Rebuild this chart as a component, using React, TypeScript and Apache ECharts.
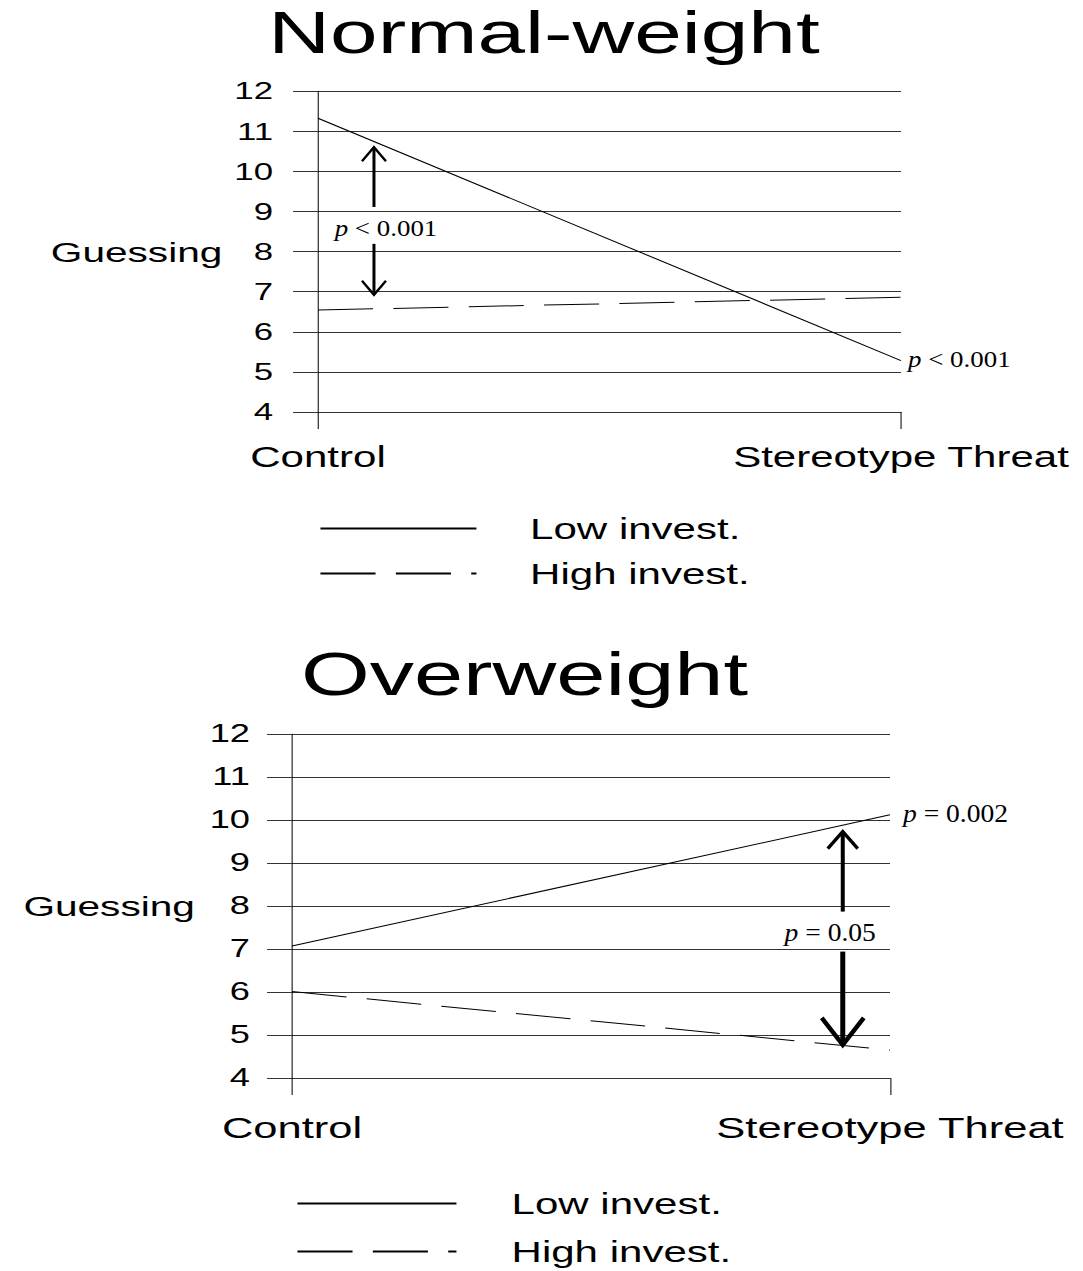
import React, { useEffect, useRef } from "react";
import * as echarts from "echarts";

// ---------- data ----------
const categories = ["Control", "Stereotype Threat"];
const seriesNames = ["Low invest.", "High invest."];
const chartTitles = ["Normal-weight", "Overweight"];
const axisName = "Guessing";
const yMin = 4;
const yMax = 12;

const normalLow = [11.32, 5.28];
const normalHigh = [6.54, 6.86];
const overLow = [7.07, 10.12];
const overHigh = [6.01, 4.65];

// arrows: data-space x, start value, tip value
const normalArrows = [
  { x: 0.096, from: 9.11, to: 10.6 },
  { x: 0.096, from: 8.19, to: 6.92 },
];
const overArrows = [
  { x: 0.921, from: 7.87, to: 9.73 },
  { x: 0.921, from: 6.94, to: 4.77 },
];
// p-value notes: data-space anchor
const normalNotes = [
  { x: 0.1166, y: 8.59, text: "p < 0.001", align: "center" },
  { x: 1.012, y: 5.32, text: "p < 0.001", align: "left" },
];
const overNotes = [
  { x: 0.9, y: 7.4, text: "p = 0.05", align: "center" },
  { x: 1.0217, y: 10.16, text: "p = 0.002", align: "left" },
];

// ---------- styles / layout ----------
const W0 = 747;
const H = 1271;
const S = 1083 / W0; // horizontal stretch of the whole picture
const SANS = "'Liberation Sans', Arial, sans-serif";
const SERIF = "'Liberation Serif', 'Times New Roman', serif";
const GRID = "#333333";
const DASH = [38, 14];

const normalArrowSizes = [
  { shaft: 3, head: 2.4, hw: 12, hl: 14 },
  { shaft: 3, head: 2.4, hw: 12, hl: 14 },
];
const overArrowSizes = [
  { shaft: 4, head: 3.4, hw: 15, hl: 17 },
  { shaft: 5, head: 4.5, hw: 21, hl: 27 },
];
const normalNoteStyles = [
  { size: 23, stretch: 1.17 },
  { size: 23, stretch: 1.17 },
];
const overNoteStyles = [
  { size: 26, stretch: 1.06 },
  { size: 26, stretch: 1.06 },
];

function xAxis(gridIndex: number, fontSize: number, margin: number) {
  return {
    type: "value",
    gridIndex,
    min: 0,
    max: 1,
    interval: 1,
    axisLine: { show: true, onZero: false, lineStyle: { color: GRID, width: 1 } },
    axisTick: { show: true, length: 17, lineStyle: { color: "#000", width: 0.7 } },
    axisLabel: {
      margin,
      fontSize,
      fontFamily: SANS,
      color: "#000",
      formatter: (v: number) => categories[Math.round(v)] ?? "",
    },
    splitLine: { show: false },
  };
}

function yAxis(gridIndex: number, fontSize: number, margin: number, nameGap: number) {
  return {
    type: "value",
    gridIndex,
    min: yMin,
    max: yMax,
    interval: 1,
    name: axisName,
    nameLocation: "middle",
    nameRotate: 0,
    nameGap,
    nameMoveOverlap: false,
    nameTextStyle: {
      fontSize: 28,
      fontFamily: SANS,
      color: "#000",
      align: "right",
      verticalAlign: "middle",
    },
    axisLine: { show: true, onZero: false, lineStyle: { color: "#000", width: 0.7 } },
    axisTick: { show: true, length: 17.2, lineStyle: { color: GRID, width: 1 } },
    axisLabel: { margin, fontSize, fontFamily: SANS, color: "#000" },
    splitLine: { show: true, lineStyle: { color: GRID, width: 1 } },
  };
}

function lineSeries(name: string, values: number[], gi: number, dashed: boolean) {
  return {
    name,
    type: "line",
    xAxisIndex: gi,
    yAxisIndex: gi,
    data: values.map((v, i) => [i, v]),
    symbol: "none",
    lineStyle: { color: "#000", width: 1, type: dashed ? DASH : "solid" },
    itemStyle: { color: "#000" },
    z: 3,
  };
}

function arrowSeries(arrows: any[], sizes: any[], gi: number) {
  return {
    type: "custom",
    coordinateSystem: "cartesian2d",
    xAxisIndex: gi,
    yAxisIndex: gi,
    silent: true,
    clip: false,
    z: 10,
    dimensions: ["x", "from", "to"],
    encode: { x: 0, y: [1, 2] },
    data: arrows.map((a) => [a.x, a.from, a.to]),
    renderItem: (params: any, api: any) => {
      const s = sizes[params.dataIndex];
      const p1 = api.coord([api.value(0), api.value(1)]);
      const p2 = api.coord([api.value(0), api.value(2)]);
      const dir = p2[1] < p1[1] ? -1 : 1;
      const tip = p2[1];
      return {
        type: "group",
        x: p1[0],
        y: 0,
        scaleX: 1 / S,
        children: [
          {
            type: "line",
            shape: { x1: 0, y1: p1[1], x2: 0, y2: tip - dir * 2 },
            style: { stroke: "#000", lineWidth: s.shaft, fill: "none" },
          },
          {
            type: "polyline",
            shape: {
              points: [
                [-s.hw, tip - dir * s.hl],
                [0, tip],
                [s.hw, tip - dir * s.hl],
              ],
            },
            style: { stroke: "#000", fill: "none", lineWidth: s.head, lineJoin: "miter" },
          },
        ],
      };
    },
  };
}

function noteSeries(notes: any[], styles: any[], gi: number) {
  return {
    type: "custom",
    coordinateSystem: "cartesian2d",
    xAxisIndex: gi,
    yAxisIndex: gi,
    silent: true,
    clip: false,
    z: 11,
    dimensions: ["x", "y"],
    encode: { x: 0, y: 1 },
    data: notes.map((n) => [n.x, n.y]),
    renderItem: (params: any, api: any) => {
      const n = notes[params.dataIndex];
      const st = styles[params.dataIndex];
      const p = api.coord([api.value(0), api.value(1)]);
      return {
        type: "text",
        x: p[0],
        y: p[1],
        scaleX: st.stretch / S,
        style: {
          text: "{i|p}{r|" + n.text.slice(1) + "}",
          rich: {
            i: { fontStyle: "italic", fontFamily: SERIF, fontSize: st.size, fill: "#000" },
            r: { fontFamily: SERIF, fontSize: st.size, fill: "#000" },
          },
          fontFamily: SERIF,
          fontSize: st.size,
          fill: "#000",
          align: n.align,
          verticalAlign: "middle",
          textAlign: n.align,
          textVerticalAlign: "middle",
        },
      };
    },
  };
}

function legend(left: number, top: number, itemWidth: number, itemGap: number, pad: number) {
  return {
    data: seriesNames.map((name) => ({ name })),
    orient: "vertical",
    left,
    top,
    padding: 0,
    itemWidth,
    itemHeight: 14,
    itemGap,
    selectedMode: false,
    itemStyle: { opacity: 0 },
    textStyle: {
      fontSize: 29,
      lineHeight: 28,
      fontFamily: SANS,
      color: "#000",
      padding: [0, 0, 0, pad],
    },
  };
}

const option: any = {
  animation: false,
  backgroundColor: "#fff",
  title: [
    {
      text: chartTitles[0],
      left: 544 / S,
      top: 3,
      padding: 0,
      textAlign: "center",
      textVerticalAlign: "top",
      textStyle: { fontSize: 59, fontWeight: "normal", fontFamily: SANS, color: "#000" },
    },
    {
      text: chartTitles[1],
      left: 524.5 / S,
      top: 643,
      padding: 0,
      textAlign: "center",
      textVerticalAlign: "top",
      textStyle: { fontSize: 61, fontWeight: "normal", fontFamily: SANS, color: "#000" },
    },
  ],
  grid: [
    {
      left: 318 / S,
      right: W0 - 901 / S,
      top: 91,
      bottom: H - 412,
      containLabel: false,
      outerBoundsMode: "none",
    },
    {
      left: 292 / S,
      right: W0 - 890 / S,
      top: 734,
      bottom: H - 1078,
      containLabel: false,
      outerBoundsMode: "none",
    },
  ],
  xAxis: [xAxis(0, 29, 30), xAxis(1, 30, 35)],
  yAxis: [yAxis(0, 24, 31, 66), yAxis(1, 25, 29, 67)],
  legend: [
    legend(319 / S, 514, (475 - 319) / S, 16, 32),
    legend(296 / S, 1189, (455 - 296) / S, 19, 33),
  ],
  series: [
    lineSeries(seriesNames[0], normalLow, 0, false),
    lineSeries(seriesNames[1], normalHigh, 0, true),
    lineSeries(seriesNames[0], overLow, 1, false),
    lineSeries(seriesNames[1], overHigh, 1, true),
    arrowSeries(normalArrows, normalArrowSizes, 0),
    arrowSeries(overArrows, overArrowSizes, 1),
    noteSeries(normalNotes, normalNoteStyles, 0),
    noteSeries(overNotes, overNoteStyles, 1),
  ],
};

export default function App() {
  const ref = useRef<HTMLDivElement>(null);
  useEffect(() => {
    document.body.style.margin = "0";
    document.body.style.overflow = "hidden";
    const chart = echarts.init(ref.current!, null, { renderer: "svg", width: W0, height: H });
    chart.setOption(option);
    return () => chart.dispose();
  }, []);
  return (
    <div
      ref={ref}
      style={{
        position: "absolute",
        left: 0,
        top: 0,
        width: W0,
        height: H,
        transform: `scaleX(${S})`,
        transformOrigin: "0 0",
        background: "#fff",
      }}
    />
  );
}
